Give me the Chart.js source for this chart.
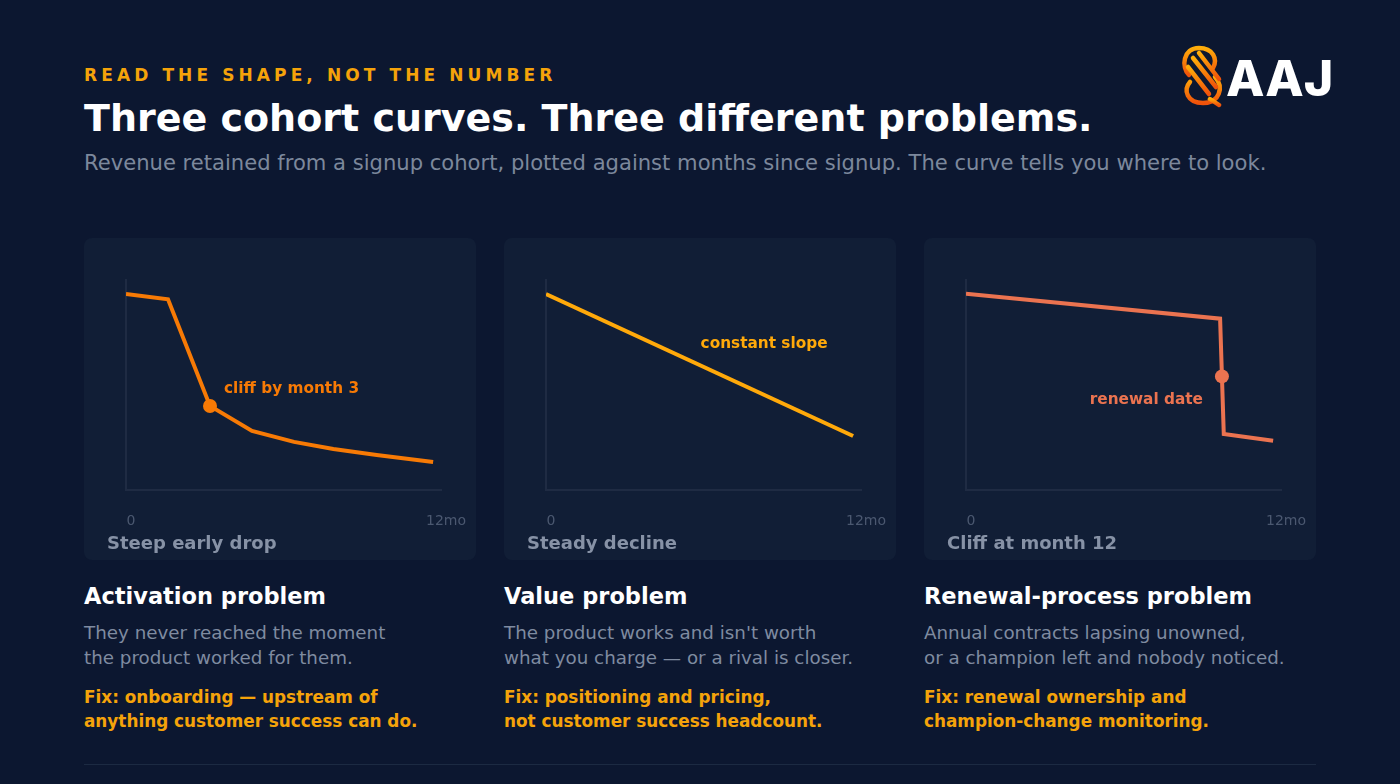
<!DOCTYPE html>
<html>
<head>
<meta charset="utf-8">
<title>Three cohort curves</title>
<script src="https://cdn.jsdelivr.net/npm/chart.js@4.4.1/dist/chart.umd.min.js"></script>
<style>
  body { margin: 0; width: 1400px; height: 784px; background: #0c1730; font-family: 'DejaVu Sans', sans-serif; position: relative; overflow: hidden; }
  .abs { position: absolute; white-space: nowrap; }
  .eyebrow { left: 84px; top: 64px; line-height: 22px; font-size: 17px; font-weight: bold; letter-spacing: 4.1px; color: #f5a30a; }
  .title { left: 84px; top: 96px; line-height: 44px; font-size: 38px; font-weight: bold; color: #fff; }
  .sub { left: 84px; top: 150px; line-height: 26px; font-size: 21.1px; color: #7c889c; }
  .logo { left: 1178px; top: 44px; }
  .brand { left: 1226px; top: 50px; line-height: 56px; font-family: 'Inter', sans-serif; font-size: 50px; font-weight: 800; letter-spacing: 0; color: #fff; }
  .card { position: absolute; top: 238px; width: 392px; height: 322px; background: #111e36; border-radius: 8px; }
  .card canvas { position: absolute; left: 0; top: 0; }
  .card .name { position: absolute; left: 23px; top: 293px; line-height: 24px; font-size: 18px; font-weight: bold; color: #8792a6; white-space: nowrap; }
  .col { position: absolute; top: 582px; width: 400px; white-space: nowrap; }
  .col h2 { margin: 0; font-size: 22.5px; line-height: 28px; color: #fff; }
  .col p { margin: 9.5px 0 0; font-size: 18.3px; line-height: 25px; color: #7f8ba0; }
  .col p.fix { margin-top: 15px; font-size: 16.85px; line-height: 24px; font-weight: bold; color: #f5a30a; }
  .rule { left: 84px; top: 764px; width: 1232px; height: 1px; background: #1c2a42; }
</style>
</head>
<body>
<div class="abs eyebrow">READ THE SHAPE, NOT THE NUMBER</div>
<div class="abs title">Three cohort curves. Three different problems.</div>
<div class="abs sub">Revenue retained from a signup cohort, plotted against months since signup. The curve tells you where to look.</div>

<svg class="abs logo" width="50" height="64" viewBox="0 0 50 64">
  <defs>
    <linearGradient id="lg" x1="0" y1="0" x2="0" y2="1">
      <stop offset="0" stop-color="#ffad0a"/>
      <stop offset="1" stop-color="#f0520a"/>
    </linearGradient>
  </defs>
  <g fill="none" stroke="url(#lg)" stroke-width="4.5" stroke-linecap="round">
    <path d="M11 31 C3 23 5 4 21 4 C35 4 40 15 35 24"/>
    <path d="M37 33 C46 43 42 59 25 59 C9 59 5 46 12 38"/>
    <path d="M15 14 L38 43"/>
    <path d="M10 23 L31 50"/>
    <path d="M21 9 L41 35"/>
    <path d="M32 55 L41 61"/>
  </g>
</svg>
<div class="abs brand">AAJ</div>

<div class="card" style="left:84px"><canvas id="activation" width="392" height="322"></canvas><div class="name">Steep early drop</div></div>
<div class="card" style="left:504px"><canvas id="value" width="392" height="322"></canvas><div class="name">Steady decline</div></div>
<div class="card" style="left:924px"><canvas id="renewal" width="392" height="322"></canvas><div class="name">Cliff at month 12</div></div>

<div class="col" style="left:84px">
  <h2>Activation problem</h2>
  <p>They never reached the moment<br>the product worked for them.</p>
  <p class="fix">Fix: onboarding — upstream of<br>anything customer success can do.</p>
</div>
<div class="col" style="left:504px">
  <h2>Value problem</h2>
  <p>The product works and isn't worth<br>what you charge — or a rival is closer.</p>
  <p class="fix">Fix: positioning and pricing,<br>not customer success headcount.</p>
</div>
<div class="col" style="left:924px">
  <h2>Renewal-process problem</h2>
  <p>Annual contracts lapsing unowned,<br>or a champion left and nobody noticed.</p>
  <p class="fix">Fix: renewal ownership and<br>champion-change monitoring.</p>
</div>
<div class="abs rule"></div>

<script>
// months since signup -> % of cohort revenue retained
const tickMonths = [0, 12];
const tickLabels = ['0', '12mo'];

const activationMonths = [0, 1.6, 3.2, 4.8, 6.4, 7.9, 9.55, 11.7];
const activationRetained = [93.3, 90.8, 40, 28.1, 22.9, 19.5, 16.7, 13.3];
const activationMarkerMonths = [3.2];
const activationMarkerRetained = [40];

const valueMonths = [0, 11.7];
const valueRetained = [93.3, 25.7];

const renewalMonths = [0, 9.68, 9.82, 11.7];
const renewalRetained = [93.5, 81.6, 26.7, 23.5];
const renewalMarkerMonths = [9.75];
const renewalMarkerRetained = [54.1];

const axisColor = '#1f2b43';
const tickColor = '#4b5870';

// text callout next to a point of the curve
const notePlugin = {
  id: 'note',
  afterDatasetsDraw(chart, args, opts) {
    if (!opts.text) return;
    const { ctx, scales: { x, y } } = chart;
    ctx.save();
    ctx.font = 'bold 15.3px "DejaVu Sans"';
    ctx.fillStyle = opts.color;
    ctx.textAlign = opts.align;
    ctx.textBaseline = 'middle';
    ctx.fillText(opts.text, x.getPixelForValue(opts.x) + opts.dx, y.getPixelForValue(opts.y) + opts.dy);
    ctx.restore();
  }
};

function makeCohortChart(id, months, retained, markerMonths, markerRetained, color, note) {
  const line = months.map((m, i) => ({ x: m, y: retained[i] }));
  const marker = markerMonths.map((m, i) => ({ x: m, y: markerRetained[i] }));
  return new Chart(document.getElementById(id), {
    type: 'line',
    data: {
      datasets: [
        { data: marker, showLine: false, pointRadius: 7, pointHoverRadius: 7, pointBackgroundColor: color, pointBorderWidth: 0 },
        { data: line, borderColor: color, borderWidth: 4, pointRadius: 0, tension: 0, borderJoinStyle: 'miter', fill: false }
      ]
    },
    options: {
      responsive: false,
      animation: false,
      events: [],
      layout: { padding: { left: 42, right: 35, top: 42, bottom: 30 } },
      plugins: {
        legend: { display: false },
        tooltip: { enabled: false },
        note: Object.assign({ color: color }, note)
      },
      scales: {
        x: {
          type: 'linear', min: 0, max: 12,
          grid: { display: false, drawTicks: false },
          border: { color: axisColor, width: 2 },
          afterBuildTicks: s => { s.ticks = tickMonths.map(v => ({ value: v })); },
          afterFit: s => { s.height = 40; s.paddingLeft = 0; s.paddingRight = 0; },
          ticks: {
            autoSkip: false, maxRotation: 0, padding: 23, labelOffset: 5,
            color: tickColor, font: { family: 'DejaVu Sans', size: 14 },
            callback: (v, i) => tickLabels[i]
          }
        },
        y: {
          min: 0, max: 100,
          grid: { display: false, drawTicks: false },
          border: { color: axisColor, width: 2 },
          ticks: { display: false },
          afterFit: s => { s.width = 0; s.paddingTop = 0; s.paddingBottom = 0; }
        }
      }
    },
    plugins: [notePlugin]
  });
}

makeCohortChart('activation', activationMonths, activationRetained, activationMarkerMonths, activationMarkerRetained, '#f77a05',
  { text: 'cliff by month 3', x: 3.2, y: 40, dx: 14, dy: -17, align: 'left' });
makeCohortChart('value', valueMonths, valueRetained, [], [], '#ffa90a',
  { text: 'constant slope', x: 5.89, y: 59.3, dx: 0, dy: -21, align: 'left' });
makeCohortChart('renewal', renewalMonths, renewalRetained, renewalMarkerMonths, renewalMarkerRetained, '#eb7350',
  { text: 'renewal date', x: 9.75, y: 54.1, dx: -19, dy: 24, align: 'right' });
</script>
</body>
</html>
